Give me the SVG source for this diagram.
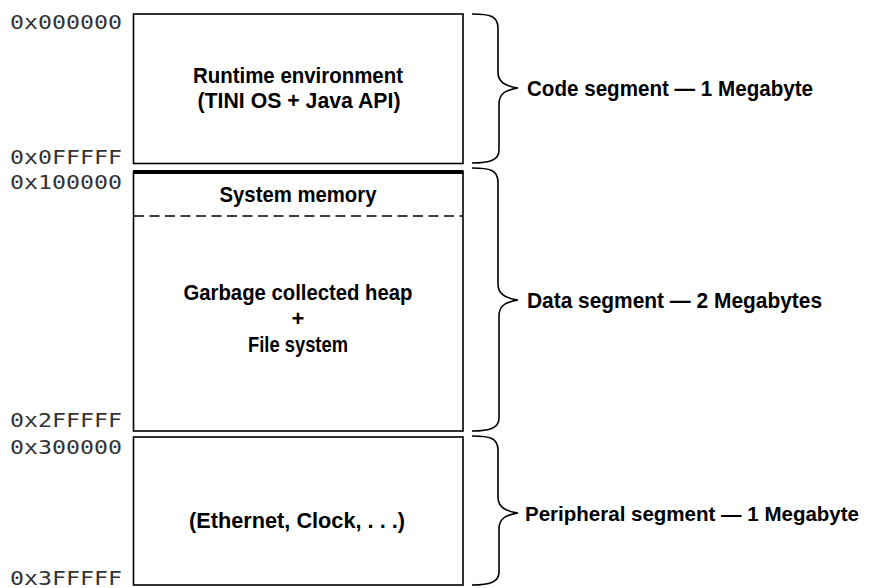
<svg xmlns="http://www.w3.org/2000/svg" width="870" height="588" viewBox="0 0 870 588">
<style>
.box{fill:#fff;stroke:#000;stroke-width:1.6}
.lbl{font-family:"Liberation Sans",Arial,sans-serif;font-weight:bold;font-size:22px;fill:#000}
.mid{text-anchor:middle}
.addr{font-family:"DejaVu Sans Mono","Liberation Mono",monospace;font-size:19px;fill:#333}
.brace{fill:none;stroke:#000;stroke-width:1.6}
</style>
<rect width="870" height="588" fill="#fff"/>
<g id="addresses">
<text class="addr" x="10" y="29" textLength="112" lengthAdjust="spacingAndGlyphs">0x000000</text>
<text class="addr" x="10" y="164" textLength="112" lengthAdjust="spacingAndGlyphs">0x0FFFFF</text>
<text class="addr" x="10" y="189" textLength="112" lengthAdjust="spacingAndGlyphs">0x100000</text>
<text class="addr" x="10" y="427" textLength="112" lengthAdjust="spacingAndGlyphs">0x2FFFFF</text>
<text class="addr" x="10" y="454" textLength="112" lengthAdjust="spacingAndGlyphs">0x300000</text>
<text class="addr" x="10" y="585" textLength="112" lengthAdjust="spacingAndGlyphs">0x3FFFFF</text>
</g>
<g id="code">
<rect class="box" x="133.5" y="14" width="329.5" height="149.5"/>
<text class="lbl mid" x="298" y="83" textLength="210" lengthAdjust="spacingAndGlyphs">Runtime environment</text>
<text class="lbl mid" x="299" y="108" textLength="203" lengthAdjust="spacingAndGlyphs">(TINI OS + Java API)</text>
</g>
<g id="data">
<rect class="box" x="133.5" y="172" width="329.5" height="259"/>
<line x1="133" y1="172" x2="463.5" y2="172" stroke="#000" stroke-width="4"/>
<line x1="134" y1="216" x2="462" y2="216" stroke="#000" stroke-width="1.4" stroke-dasharray="10,5.5"/>
<text class="lbl mid" x="298" y="202" textLength="157" lengthAdjust="spacingAndGlyphs">System memory</text>
<text class="lbl mid" x="298" y="300" textLength="229" lengthAdjust="spacingAndGlyphs">Garbage collected heap</text>
<text class="lbl mid" x="298" y="326">+</text>
<text class="lbl mid" x="298" y="352" textLength="100" lengthAdjust="spacingAndGlyphs">File system</text>
</g>
<g id="peripheral">
<rect class="box" x="133.5" y="437" width="329.5" height="148"/>
<text class="lbl mid" x="297" y="528" textLength="216" lengthAdjust="spacingAndGlyphs">(Ethernet, Clock, . . .)</text>
</g>
<g id="connectors">
<path class="brace" d="M472,14 C490,14 498,16 498,28 L498,72 C498,82 505,86 518,88 C505,90 499,94 499,104 L499,150 C499,160 490,163 472,163"/>
<path class="brace" d="M472,168 C490,168 498,170 498,182 L498,284 C498,294 505,298 518,300 C505,302 499,306 499,316 L499,418 C499,428 490,431 472,431"/>
<path class="brace" d="M472,436 C490,436 498,438 498,450 L498,497 C498,507 505,511 518,513 C505,515 499,519 499,529 L499,572 C499,582 490,585 472,585"/>
</g>
<g id="labels">
<text class="lbl" x="527" y="96" textLength="286" lengthAdjust="spacingAndGlyphs">Code segment — 1 Megabyte</text>
<text class="lbl" x="527" y="308" textLength="295" lengthAdjust="spacingAndGlyphs">Data segment — 2 Megabytes</text>
<text class="lbl" x="525" y="521" font-size="20.5" textLength="334" lengthAdjust="spacingAndGlyphs" style="font-size:20.5px">Peripheral segment — 1 Megabyte</text>
</g>
</svg>
